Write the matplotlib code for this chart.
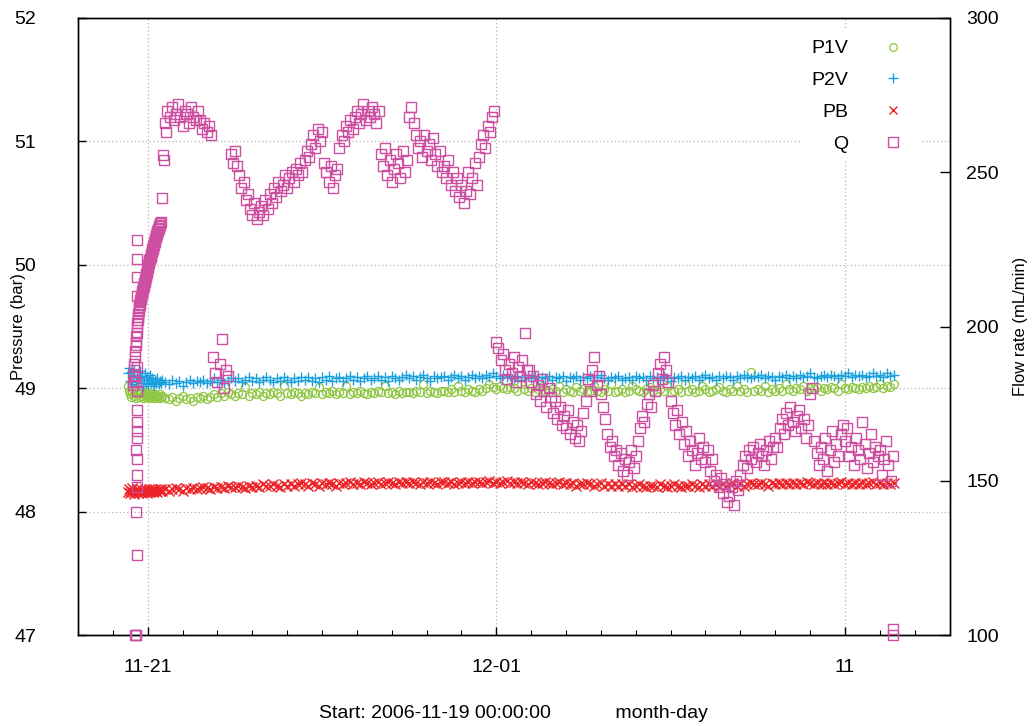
import datetime as dt

import numpy as np
import matplotlib
matplotlib.use("Agg")
import matplotlib.pyplot as plt
import matplotlib.dates as mdates
from matplotlib.lines import Line2D
from matplotlib.ticker import FixedLocator, MultipleLocator

plt.rcParams['font.family'] = ['Liberation Sans', 'DejaVu Sans']

START = dt.datetime(2006, 11, 19)

# ---------------------------------------------------------------- data
# Times are in days after START.

# start-up phase, dense logging
p_early_t0, p_early_step = 1.44, 0.03
p1v_early = [49.02, 48.98, 48.95, 48.93, 48.96, 48.99, 48.94, 48.92, 48.97, 48.95,
             48.93, 48.96, 48.98, 48.94, 48.92, 48.95, 48.97, 48.93, 48.96, 48.94,
             48.92, 48.95, 48.93, 48.96, 48.94, 48.92, 48.95, 48.93, 48.94, 48.92,
             48.95, 48.93, 48.94]
p2v_early = [49.12, 49.16, 49.06, 49.13, 49.03, 49.10, 49.15, 49.05, 49.11, 49.02,
             49.08, 49.14, 49.04, 49.10, 49.02, 49.07, 49.12, 49.04, 49.09, 49.03,
             49.07, 49.11, 49.04, 49.08, 49.05, 49.02, 49.07, 49.04, 49.08, 49.03,
             49.06, 49.04, 49.07]
pb_early = [48.16, 48.18, 48.15, 48.17, 48.19, 48.16, 48.14, 48.17, 48.18, 48.15,
            48.17, 48.16, 48.18, 48.15, 48.17, 48.16, 48.18, 48.17, 48.15, 48.17,
            48.18, 48.16, 48.17, 48.18, 48.16, 48.17, 48.18, 48.17, 48.16, 48.18,
            48.17, 48.18, 48.17]

# regular logging, one row per day
p_main_t0, p_main_step = 2.5, 0.1
p1v_main = [
    48.92, 48.91, 48.93, 48.90, 48.92, 48.94, 48.91, 48.92, 48.90, 48.93,
    48.92, 48.94, 48.91, 48.93, 48.95, 48.93, 48.96, 48.94, 48.97, 48.95,
    48.94, 48.96, 48.95, 49.01, 48.94, 48.96, 48.95, 48.97, 48.94, 48.96,
    48.95, 48.97, 48.96, 48.94, 49.02, 48.96, 48.95, 48.97, 48.96, 48.94,
    48.96, 48.95, 48.97, 48.96, 49.01, 48.95, 48.97, 48.96, 48.98, 48.95,
    48.97, 48.96, 49.02, 48.95, 48.97, 48.96, 48.98, 48.96, 48.95, 48.97,
    48.96, 48.98, 48.97, 49.02, 48.96, 48.97, 48.95, 48.98, 48.96, 48.97,
    48.97, 48.96, 48.98, 48.97, 49.03, 48.96, 48.98, 48.97, 48.96, 48.98,
    48.98, 48.97, 48.99, 48.97, 49.02, 48.98, 48.97, 48.99, 48.98, 48.97,
    48.99, 48.98, 49.00, 49.03, 49.01, 48.99, 49.02, 49.00, 48.99, 49.01,
    49.00, 48.98, 49.03, 48.99, 48.98, 49.00, 48.97, 48.99, 49.02, 48.98,
    48.97, 48.99, 48.98, 49.02, 48.97, 48.99, 48.98, 48.97, 49.01, 48.98,
    48.99, 48.97, 48.98, 49.02, 48.98, 48.97, 48.99, 48.98, 49.03, 48.97,
    48.98, 48.99, 48.97, 48.98, 49.02, 48.99, 48.98, 48.97, 48.99, 49.01,
    48.98, 48.97, 48.99, 48.98, 49.02, 48.97, 48.98, 48.99, 48.97, 49.03,
    48.98, 48.99, 48.97, 48.98, 49.02, 48.99, 48.97, 48.98, 48.99, 49.01,
    48.98, 48.97, 48.99, 48.98, 49.02, 48.98, 48.99, 48.97, 49.13, 48.98,
    48.99, 48.98, 49.02, 48.97, 48.99, 48.98, 49.00, 48.98, 49.03, 48.99,
    48.98, 49.00, 48.99, 49.02, 48.98, 49.00, 48.99, 49.01, 48.98, 49.00,
    48.99, 49.01, 49.00, 48.98, 49.03, 49.00, 48.99, 49.01, 49.00, 48.99,
    49.01, 49.00, 49.02, 49.00, 49.01, 49.03, 49.00, 49.02, 49.01, 49.03]
p2v_main = [
    49.05, 49.03, 49.07, 49.04, 49.06, 49.02, 49.05, 49.07, 49.04, 49.06,
    49.05, 49.07, 49.04, 49.06, 49.08, 49.05, 49.07, 49.04, 49.06, 49.08,
    49.06, 49.08, 49.05, 49.07, 49.09, 49.06, 49.08, 49.05, 49.07, 49.09,
    49.07, 49.05, 49.08, 49.06, 49.09, 49.07, 49.05, 49.08, 49.06, 49.09,
    49.07, 49.09, 49.06, 49.08, 49.05, 49.09, 49.07, 49.10, 49.06, 49.08,
    49.09, 49.06, 49.08, 49.10, 49.07, 49.09, 49.06, 49.08, 49.10, 49.07,
    49.08, 49.10, 49.07, 49.09, 49.06, 49.10, 49.08, 49.07, 49.09, 49.11,
    49.08, 49.10, 49.07, 49.09, 49.11, 49.08, 49.06, 49.10, 49.08, 49.09,
    49.10, 49.07, 49.09, 49.11, 49.08, 49.10, 49.07, 49.09, 49.11, 49.08,
    49.10, 49.08, 49.11, 49.09, 49.12, 49.10, 49.08, 49.11, 49.09, 49.10,
    49.08, 49.10, 49.07, 49.09, 49.11, 49.08, 49.10, 49.07, 49.09, 49.08,
    49.10, 49.07, 49.09, 49.08, 49.10, 49.06, 49.09, 49.08, 49.10, 49.07,
    49.09, 49.08, 49.10, 49.07, 49.09, 49.11, 49.08, 49.07, 49.09, 49.08,
    49.10, 49.07, 49.08, 49.09, 49.07, 49.10, 49.08, 49.09, 49.07, 49.10,
    49.08, 49.09, 49.07, 49.10, 49.08, 49.06, 49.09, 49.08, 49.10, 49.07,
    49.09, 49.08, 49.10, 49.07, 49.09, 49.11, 49.08, 49.09, 49.07, 49.10,
    49.08, 49.10, 49.09, 49.07, 49.10, 49.08, 49.11, 49.09, 49.08, 49.10,
    49.09, 49.11, 49.08, 49.10, 49.09, 49.07, 49.10, 49.09, 49.11, 49.08,
    49.10, 49.08, 49.11, 49.09, 49.10, 49.12, 49.09, 49.08, 49.10, 49.11,
    49.09, 49.11, 49.10, 49.08, 49.11, 49.10, 49.12, 49.09, 49.11, 49.10,
    49.11, 49.09, 49.10, 49.12, 49.10, 49.11, 49.09, 49.12, 49.10, 49.11]
pb_main = [
    48.18, 48.17, 48.18, 48.19, 48.18, 48.17, 48.19, 48.18, 48.19, 48.18,
    48.19, 48.20, 48.19, 48.18, 48.20, 48.19, 48.20, 48.19, 48.21, 48.20,
    48.20, 48.21, 48.20, 48.19, 48.21, 48.20, 48.21, 48.20, 48.22, 48.21,
    48.21, 48.22, 48.21, 48.20, 48.22, 48.21, 48.22, 48.21, 48.22, 48.23,
    48.22, 48.21, 48.23, 48.22, 48.21, 48.23, 48.22, 48.23, 48.22, 48.21,
    48.23, 48.22, 48.23, 48.24, 48.22, 48.23, 48.22, 48.24, 48.23, 48.22,
    48.23, 48.24, 48.22, 48.23, 48.24, 48.23, 48.22, 48.24, 48.23, 48.24,
    48.23, 48.24, 48.23, 48.22, 48.24, 48.23, 48.24, 48.23, 48.22, 48.24,
    48.24, 48.23, 48.24, 48.22, 48.23, 48.24, 48.23, 48.24, 48.23, 48.24,
    48.24, 48.23, 48.24, 48.25, 48.23, 48.24, 48.23, 48.24, 48.25, 48.23,
    48.24, 48.23, 48.24, 48.23, 48.22, 48.24, 48.23, 48.22, 48.23, 48.24,
    48.23, 48.22, 48.23, 48.24, 48.22, 48.23, 48.22, 48.23, 48.21, 48.22,
    48.22, 48.23, 48.22, 48.21, 48.22, 48.23, 48.21, 48.22, 48.21, 48.22,
    48.21, 48.22, 48.21, 48.22, 48.20, 48.21, 48.22, 48.21, 48.20, 48.21,
    48.21, 48.20, 48.22, 48.21, 48.20, 48.21, 48.22, 48.21, 48.20, 48.21,
    48.21, 48.22, 48.21, 48.20, 48.22, 48.21, 48.22, 48.21, 48.22, 48.21,
    48.22, 48.21, 48.22, 48.23, 48.21, 48.22, 48.21, 48.22, 48.23, 48.22,
    48.22, 48.23, 48.22, 48.21, 48.23, 48.22, 48.23, 48.22, 48.23, 48.22,
    48.23, 48.22, 48.23, 48.22, 48.24, 48.23, 48.22, 48.23, 48.22, 48.23,
    48.22, 48.23, 48.22, 48.23, 48.24, 48.22, 48.23, 48.22, 48.23, 48.22,
    48.23, 48.22, 48.23, 48.24, 48.22, 48.23, 48.22, 48.23, 48.22, 48.23]

# flow rate, start-up ramp
q_ramp_t0, q_ramp_step = 1.58, 0.01
q_ramp = [181, 182, 184, 186, 188, 190, 192, 194, 195, 197,
          198, 200, 201, 202, 203, 204, 205, 206, 207, 207,
          208, 208.5, 209, 209.5, 210, 210.5, 211, 211.5, 212, 212.5,
          213, 213.5, 214, 214.5, 215, 215.5, 216, 216.5, 217, 217.5,
          218, 218.5, 219, 219.5, 220, 220.5, 221, 221.5, 222, 222,
          222.5, 223, 223.5, 224, 224.5, 225, 225, 225.5, 226, 226.5,
          227, 227, 227.5, 228, 228.5, 229, 229, 229.5, 230, 230.5,
          231, 231, 231.5, 232, 232, 232.5, 233, 233, 233.5, 234]

# flow rate, isolated readings
q_extra_day = [1.64, 1.65, 1.66, 1.68, 1.67, 1.69, 1.68, 1.70, 1.67, 1.69,
               1.68, 1.70, 1.68, 1.69, 1.67, 1.69, 1.70, 1.68, 1.69, 1.70,
               2.40, 2.44, 2.46, 2.52, 23.37, 23.38]
q_extra_flow = [100, 100, 100, 126, 140, 148, 152, 157, 160, 164,
                166, 169, 173, 179, 182, 187, 210, 216, 222, 228,
                241.6, 255.5, 254, 263, 102, 100]

# flow rate, regular logging (16 readings per day)
q_main_t0, q_main_step = 2.5, 1 / 16
q_main = [
    266, 270, 268, 271, 267, 269, 272, 268, 265, 270, 269, 266, 271, 268, 267, 270,
    267, 264, 266, 263, 265, 262, 190, 185, 182, 188, 196, 180, 186, 184, 256, 253,
    257, 252, 249, 245, 247, 241, 243, 238, 236, 240, 235, 237, 239, 236, 241, 238,
    243, 240, 245, 242, 247, 244, 246, 249, 245, 248, 250, 247, 251, 249, 253, 250,
    254, 257, 255, 259, 262, 258, 264, 260, 263, 253, 250, 247, 252, 245, 249, 251,
    258, 262, 260, 265, 263, 267, 264, 268, 270, 266, 269, 272, 267, 270, 268, 271,
    269, 266, 270, 256, 252, 258, 249, 254, 247, 251, 256, 253, 248, 257, 250, 254,
    268, 271, 266, 262, 258, 260, 255, 262, 257, 259, 254, 261, 256, 252, 257, 250,
    252, 248, 254, 246, 250, 244, 248, 242, 246, 240, 244, 250, 243, 248, 253, 246,
    255, 259, 262, 258, 265, 263, 268, 270, 195, 193, 189, 191, 186, 183, 188, 185,
    190, 182, 187, 184, 189, 198, 186, 186, 182, 184, 178, 181, 176, 183, 179, 174,
    180, 177, 172, 176, 170, 174, 168, 171, 167, 173, 165, 169, 164, 168, 163, 166,
    172, 176, 183, 179, 186, 190, 181, 184, 178, 174, 170, 165, 161, 163, 158, 160,
    155, 159, 153, 157, 152, 156, 160, 154, 158, 163, 167, 171, 169, 175, 178, 174,
    181, 179, 185, 188, 183, 190, 186, 182, 176, 172, 168, 173, 165, 169, 162, 166,
    158, 163, 160, 155, 159, 164, 157, 161, 156, 160, 153, 157, 150, 152, 148, 151,
    146, 149, 143, 145, 148, 142, 150, 147, 152, 155, 158, 154, 160, 157, 161, 156,
    159, 162, 158, 155, 160, 163, 157, 161, 164, 161, 167, 170, 165, 172, 168, 174,
    169, 166, 171, 173, 167, 170, 164, 168, 178, 180, 163, 159, 155, 161, 157, 164,
    153, 160, 166, 156, 162, 158, 165, 168, 163, 167, 158, 161, 155, 164, 160, 157,
    169, 162, 154, 159, 165, 156, 161, 158, 160, 152, 157, 163, 155, 150, 158]

x_major_days = [2, 12, 22]
x_major_labels = ["11-21", "12-01", "11"]
x_span_days = (0, 25)
p_limits = (47, 52)
q_limits = (100, 300)

series_style = {
    "P1V": dict(color="#8DC63F", marker="o", ms=5.8, mew=0.9, mfc="none"),
    "P2V": dict(color="#1BA0DE", marker="+", ms=7.5, mew=1.0),
    "PB":  dict(color="#EC2227", marker="x", ms=6.5, mew=1.0),
    "Q":   dict(color="#CC4FA2", marker="s", ms=7.2, mew=1.0, mfc="none"),
}


# ---------------------------------------------------------------- helpers
def to_dates(days):
    return mdates.date2num(START) + np.asarray(days, dtype=float)


def regular_times(t0, step, n):
    return t0 + step * np.arange(n)


# ---------------------------------------------------------------- figure
fig = plt.figure(figsize=(10.36, 7.26), dpi=100)
ax = fig.add_axes([78 / 1036, 91 / 726, 871.5 / 1036, 617 / 726])
ax2 = ax.twinx()

t_pe = to_dates(regular_times(p_early_t0, p_early_step, len(p1v_early)))
t_pm = to_dates(regular_times(p_main_t0, p_main_step, len(p1v_main)))

for name, early, main in (("P1V", p1v_early, p1v_main),
                          ("P2V", p2v_early, p2v_main),
                          ("PB", pb_early, pb_main)):
    st = series_style[name]
    ax.plot(np.concatenate([t_pe, t_pm]), np.concatenate([early, main]),
            linestyle="none", marker=st["marker"], ms=st["ms"], mew=st["mew"],
            mec=st["color"], mfc=st.get("mfc", st["color"]), zorder=3)

st = series_style["Q"]
t_qr = to_dates(regular_times(q_ramp_t0, q_ramp_step, len(q_ramp)))
t_qm = to_dates(regular_times(q_main_t0, q_main_step, len(q_main)))
t_qx = to_dates(q_extra_day)
ax2.plot(np.concatenate([t_qr, t_qx, t_qm]),
         np.concatenate([q_ramp, q_extra_flow, q_main]),
         linestyle="none", marker=st["marker"], ms=st["ms"], mew=st["mew"],
         mec=st["color"], mfc="none", clip_on=False, zorder=3)

# axes ranges and ticks
ax.set_xlim(*to_dates(x_span_days))
ax.set_ylim(*p_limits)
ax2.set_ylim(*q_limits)

ax.xaxis.set_major_locator(FixedLocator(to_dates(x_major_days)))
ax.set_xticklabels(x_major_labels)
ax.xaxis.set_minor_locator(FixedLocator(to_dates(np.arange(x_span_days[0] + 1, x_span_days[1]))))
ax.yaxis.set_major_locator(MultipleLocator(1))
ax2.yaxis.set_major_locator(MultipleLocator(50))

ax.tick_params(axis="x", which="major", direction="in", length=6, width=1.0,
               labelsize=14, pad=17, top=False)
ax.tick_params(axis="x", which="minor", direction="in", length=3.5, width=0.8, top=False)
ax.tick_params(axis="y", which="major", direction="in", length=6, width=1.0,
               labelsize=14, pad=30, right=False)
ax2.tick_params(axis="y", which="major", direction="in", length=7, width=1.0,
                labelsize=14, pad=12)

ax.grid(True, which="major", color="#b4b4b4", linestyle=(0, (1, 2)), linewidth=0.9)
ax.set_axisbelow(True)

for a in (ax, ax2):
    for sp in a.spines.values():
        sp.set_linewidth(1.0)
        sp.set_color("black")
    a.patch.set_visible(a is ax)

ax.set_ylabel("Pressure (bar)", fontsize=12)
ax.yaxis.set_label_coords(-52 / 871.5, 0.5)
ax2.set_ylabel("Flow rate (mL/min)", fontsize=12)
ax2.yaxis.set_label_coords(1 + 64 / 871.5, 0.5)
ax.set_xlabel("Start: 2006-11-19 00:00:00" + " " * 12 + "month-day", fontsize=14)
ax.xaxis.set_label_coords(0.5, -70 / 617)

# legend: labels right-aligned, marker to the right
handles = []
for name in ("P1V", "P2V", "PB", "Q"):
    st = series_style[name]
    handles.append(Line2D([], [], linestyle="none", marker=st["marker"],
                          ms=st["ms"] * 0.95, mew=st["mew"], mec=st["color"],
                          mfc=st.get("mfc", st["color"])))
leg = ax2.legend(handles, ["P1V", "P2V", "PB", "Q"], loc="upper right",
                 bbox_to_anchor=(922 / 1036, 1 - 30 / 726), bbox_transform=fig.transFigure,
                 markerfirst=False, fontsize=14, handlelength=2.0, handletextpad=1.3,
                 labelspacing=0.73, borderpad=0.5, borderaxespad=0,
                 frameon=True, fancybox=False, framealpha=1.0)
leg.get_frame().set_edgecolor("none")
leg.get_frame().set_facecolor("white")

fig.savefig("out.png", dpi=100)
